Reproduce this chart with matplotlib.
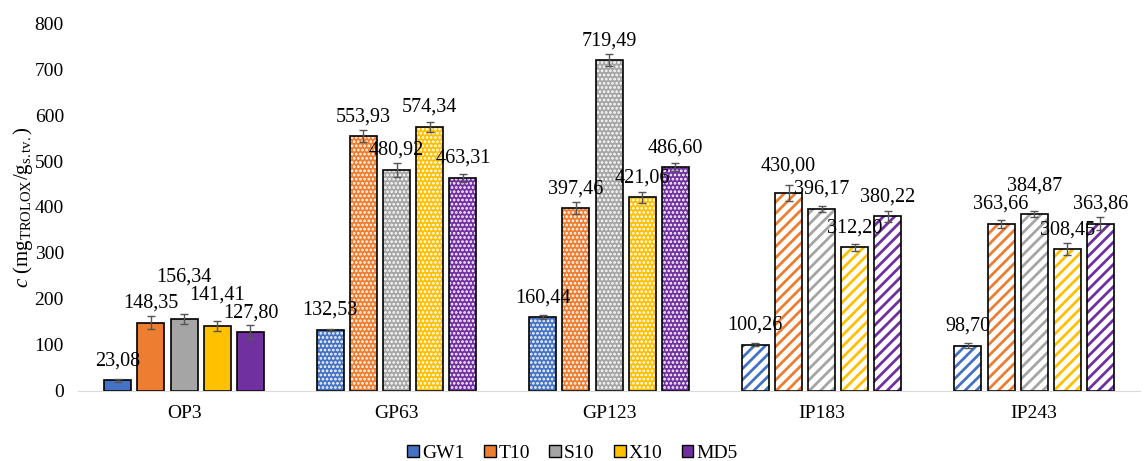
import matplotlib.pyplot as plt
import numpy as np
from matplotlib.patches import Patch

plt.rcParams['font.family'] = ['Liberation Serif', 'DejaVu Serif']
plt.rcParams['mathtext.fontset'] = 'custom'
plt.rcParams['mathtext.rm'] = 'Liberation Serif'
plt.rcParams['mathtext.it'] = 'Liberation Serif:italic'

groups = ['OP3', 'GP63', 'GP123', 'IP183', 'IP243']
series = ['GW1', 'T10', 'S10', 'X10', 'MD5']
colors = ['#4472C4', '#ED7D31', '#A5A5A5', '#FFC000', '#7030A0']

values = {
    'GW1': [23.08, 132.53, 160.44, 100.26, 98.70],
    'T10': [148.35, 553.93, 397.46, 430.00, 363.66],
    'S10': [156.34, 480.92, 719.49, 396.17, 384.87],
    'X10': [141.41, 574.34, 421.06, 312.20, 308.45],
    'MD5': [127.80, 463.31, 486.60, 380.22, 363.86],
}
errors = {
    'GW1': [3, 3, 4, 3, 5],
    'T10': [14, 13, 13, 18, 9],
    'S10': [11, 15, 13, 6, 7],
    'X10': [11, 11, 12, 8, 13],
    'MD5': [15, 8, 9, 12, 14],
}
# fill style per group: solid, dotted, striped
styles = ['solid', 'dots', 'dots', 'stripes', 'stripes']

# label lift above bar top (pixels), a few moved up like in the original
lift = np.full((5, 5), 10.0)
lift[2, 0] = 32
lift[3, 0] = 21
lift[1, 3] = 18
lift[2, 4] = 18

fig = plt.figure(figsize=(11.45, 4.61), dpi=100)
ax = fig.add_axes([0.068, 0.152, 0.928, 0.798])

x = np.arange(len(groups))
step = 0.156
width = 0.127

for i, s in enumerate(series):
    pos = x + (i - 2) * step
    vals = np.array(values[s])
    errs = np.array(errors[s])
    for j in range(len(groups)):
        if styles[j] == 'solid':
            ax.bar(pos[j], vals[j], width, color=colors[i], edgecolor='black', linewidth=1.2)
        elif styles[j] == 'dots':
            with plt.rc_context({'hatch.linewidth': 1.3}):
                ax.bar(pos[j], vals[j], width, color=colors[i], edgecolor='white', hatch='....', linewidth=0)
            ax.bar(pos[j], vals[j], width, fill=False, edgecolor='black', linewidth=1.2)
        else:
            with plt.rc_context({'hatch.linewidth': 2.0}):
                ax.bar(pos[j], vals[j], width, color='white', edgecolor=colors[i], hatch='///', linewidth=0)
            ax.bar(pos[j], vals[j], width, fill=False, edgecolor='black', linewidth=1.2)
    ax.errorbar(pos, vals, yerr=errs, fmt='none', ecolor='#555555', elinewidth=1, capsize=3, capthick=1)
    for j in range(len(groups)):
        ax.annotate(f'{vals[j]:.2f}'.replace('.', ','), (pos[j], vals[j]),
                    xytext=(0, lift[i, j] * 0.72), textcoords='offset points',
                    ha='center', va='bottom', fontsize=14.5)

ax.set_xlim(-0.5, 4.5)
ax.set_ylim(0, 800)
ax.set_yticks(np.arange(0, 801, 100))
ax.set_xticks(x)
ax.set_xticklabels(groups)
ax.tick_params(axis='both', length=0, labelsize=14, pad=10)
for sp in ['top', 'right', 'left']:
    ax.spines[sp].set_visible(False)
ax.spines['bottom'].set_color('#D9D9D9')
ax.set_ylabel(r'$\it{c}$ (mg$_{\mathrm{TROLOX}}$/g$_{\mathrm{s.tv.}}$)', fontsize=15, labelpad=0)

handles = [Patch(facecolor=c, edgecolor='black', linewidth=1) for c in colors]
fig.legend(handles, series, loc='lower center', ncol=5, frameon=False, fontsize=14,
           bbox_to_anchor=(0.5, -0.04), handlelength=0.6, handleheight=0.6,
           handletextpad=0.15, columnspacing=1.0)

fig.savefig('out.png', dpi=100)
